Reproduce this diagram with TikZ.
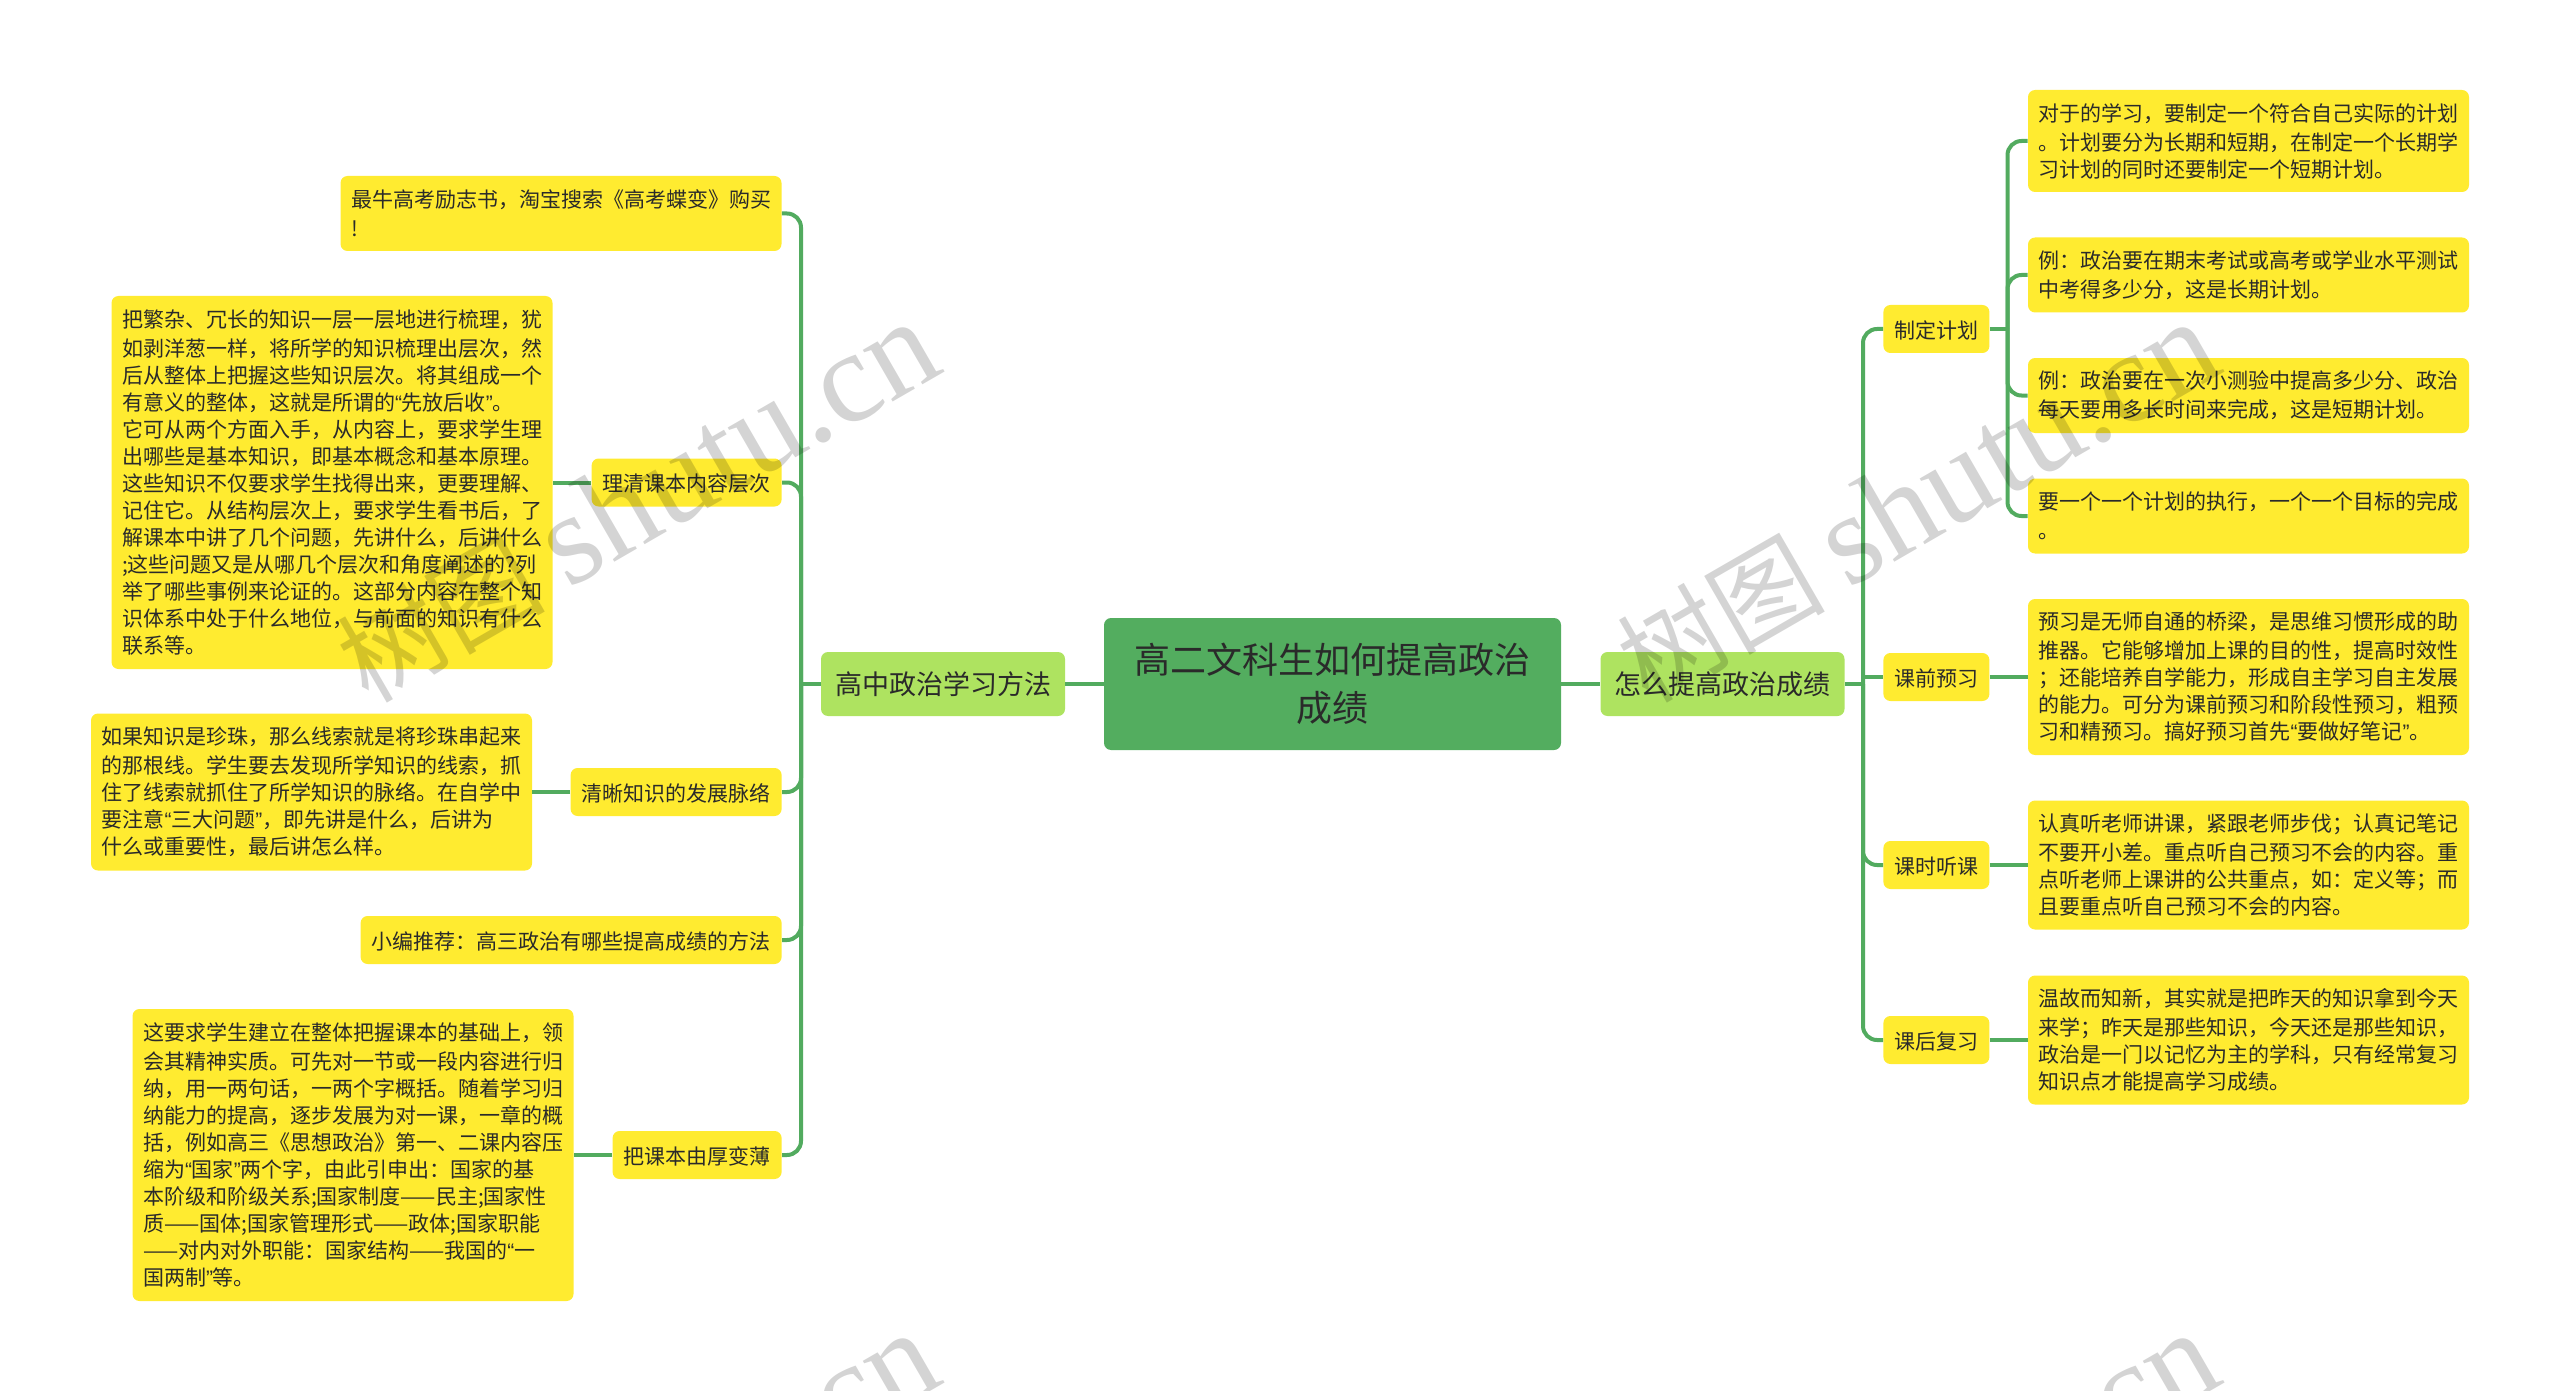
\documentclass[tikz,border=0pt]{standalone}
\usepackage{fontspec}
\setmainfont{Noto Sans CJK SC}
\newfontfamily\latf{Liberation Sans}
\newfontfamily\wmlat{Liberation Serif}
\newcommand\qql{{\latf “}}
\newcommand\qqr{{\latf ”}}
\definecolor{rootgreen}{HTML}{53AD5F}
\definecolor{subgreen}{HTML}{AEE360}
\definecolor{linkgreen}{HTML}{52AB5F}
\definecolor{leafyellow}{HTML}{FFEB30}
\definecolor{inktext}{HTML}{2A2A2A}
\tikzset{
  x=.5pt,y=-.5pt,
  link/.style={draw=linkgreen,line width=2pt,rounded corners=7pt},
  base/.style={rounded corners=3.5pt,text=inktext,inner ysep=0pt},
  rootbox/.style={base,fill=rootgreen,minimum width=228.5pt,minimum height=66pt,text width=210pt,align=center,font=\fontsize{18}{24}\selectfont},
  subbox/.style={base,fill=subgreen,minimum width=122pt,minimum height=32pt,inner xsep=0pt,font=\fontsize{13.5}{18}\selectfont},
  tagbox/.style={base,fill=leafyellow,minimum height=24pt,inner xsep=5.5pt,text height=10pt,text depth=1pt,font=\fontsize{10.5}{13.5}\selectfont},
  detail/.style={base,fill=leafyellow,text width=210pt,inner xsep=5.25pt,align=left,font=\fontsize{10.5}{13.5}\selectfont,execute at begin node={\vspace*{1pt}}},
  mark text/.style={black,opacity=.17,rotate=30,anchor=base west,inner sep=0pt,font=\fontsize{52}{60}\selectfont}
}
\newcommand\wmk{树图 {\wmlat\fontsize{65}{70}\selectfont shutu.cn}}
\begin{document}
\begin{tikzpicture}
\useasboundingbox (0,0) rectangle (2560,1391);
\clip (0,0) rectangle (2560,1391);
% root and main branches
\node[rootbox] (root) at (1332.5,684) {高二文科生如何提高政治\\成绩};
\node[subbox] (subL) at (943,684) {高中政治学习方法};
\node[subbox] (subR) at (1722.5,684) {怎么提高政治成绩};
\coordinate (hubL) at (801,684);
\coordinate (hubR) at (1863,684);
\coordinate (hubPlan) at (2007.5,329);
% left tags
\node[detail,minimum height=37.5pt] (a1) at (561,213.5) {最牛高考励志书，淘宝搜索《高考蝶变》购买\\!};
\node[tagbox,anchor=east] (t2) at (782,482.5) {理清课本内容层次};
\node[detail,minimum height=186.5pt] (d2) at (332,482.5) {把繁杂、冗长的知识一层一层地进行梳理，犹\\如剥洋葱一样，将所学的知识梳理出层次，然\\后从整体上把握这些知识层次。将其组成一个\\有意义的整体，这就是所谓的\qql 先放后收\qqr 。\\它可从两个方面入手，从内容上，要求学生理\\出哪些是基本知识，即基本概念和基本原理。\\这些知识不仅要求学生找得出来，更要理解、\\记住它。从结构层次上，要求学生看书后，了\\解课本中讲了几个问题，先讲什么，后讲什么\\;这些问题又是从哪几个层次和角度阐述的?列\\举了哪些事例来论证的。这部分内容在整个知\\识体系中处于什么地位，与前面的知识有什么\\联系等。};
\node[tagbox,anchor=east] (t3) at (782,792) {清晰知识的发展脉络};
\node[detail,minimum height=78.5pt] (d3) at (311.5,792) {如果知识是珍珠，那么线索就是将珍珠串起来\\的那根线。学生要去发现所学知识的线索，抓\\住了线索就抓住了所学知识的脉络。在自学中\\要注意\qql 三大问题\qqr ，即先讲是什么，后讲为\\什么或重要性，最后讲怎么样。};
\node[tagbox,anchor=east] (t4) at (782,940) {小编推荐：高三政治有哪些提高成绩的方法};
\node[tagbox,anchor=east] (t5) at (782,1155) {把课本由厚变薄};
\node[detail,minimum height=146pt] (d5) at (353,1155) {这要求学生建立在整体把握课本的基础上，领\\会其精神实质。可先对一节或一段内容进行归\\纳，用一两句话，一两个字概括。随着学习归\\纳能力的提高，逐步发展为对一课，一章的概\\括，例如高三《思想政治》第一、二课内容压\\缩为\qql 国家\qqr 两个字，由此引申出：国家的基\\本阶级和阶级关系;国家制度——民主;国家性\\质——国体;国家管理形式——政体;国家职能\\——对内对外职能：国家结构——我国的\qql 一\\国两制\qqr 等。};
% right tags
\node[tagbox,anchor=west] (p1) at (1883,329) {制定计划};
\node[tagbox,anchor=west] (p2) at (1883,677) {课前预习};
\node[tagbox,anchor=west] (p3) at (1883,865) {课时听课};
\node[tagbox,anchor=west] (p4) at (1883,1040) {课后复习};
\node[detail,minimum height=51pt] (r1) at (2248.5,141) {对于的学习，要制定一个符合自己实际的计划\\。计划要分为长期和短期，在制定一个长期学\\习计划的同时还要制定一个短期计划。};
\node[detail,minimum height=37.5pt] (r2) at (2248.5,275) {例：政治要在期末考试或高考或学业水平测试\\中考得多少分，这是长期计划。};
\node[detail,minimum height=37.5pt] (r3) at (2248.5,395.5) {例：政治要在一次小测验中提高多少分、政治\\每天要用多长时间来完成，这是短期计划。};
\node[detail,minimum height=37.5pt] (r4) at (2248.5,516) {要一个一个计划的执行，一个一个目标的完成\\。};
\node[detail,minimum height=78pt] (r5) at (2248.5,677) {预习是无师自通的桥梁，是思维习惯形成的助\\推器。它能够增加上课的目的性，提高时效性\\；还能培养自学能力，形成自主学习自主发展\\的能力。可分为课前预习和阶段性预习，粗预\\习和精预习。搞好预习首先\qql 要做好笔记\qqr 。};
\node[detail,minimum height=64.5pt] (r6) at (2248.5,865) {认真听老师讲课，紧跟老师步伐；认真记笔记\\不要开小差。重点听自己预习不会的内容。重\\点听老师上课讲的公共重点，如：定义等；而\\且要重点听自己预习不会的内容。};
\node[detail,minimum height=64.5pt] (r7) at (2248.5,1040) {温故而知新，其实就是把昨天的知识拿到今天\\来学；昨天是那些知识，今天还是那些知识，\\政治是一门以记忆为主的学科，只有经常复习\\知识点才能提高学习成绩。};
% connectors
\draw[link] (root.west) -- (subL.east);
\draw[link] (root.east) -- (subR.west);
\draw[link] (subL.west) -- (hubL);
\draw[link] (subR.east) -- (hubR);
\draw[link] (a1.east) -| (hubL);
\draw[link] (t2.east) -| (hubL);
\draw[link] (t3.east) -| (hubL);
\draw[link] (t4.east) -| (hubL);
\draw[link] (t5.east) -| (hubL);
\draw[link] (t2.west) -- (d2.east);
\draw[link] (t3.west) -- (d3.east);
\draw[link] (t5.west) -- (d5.east);
\draw[link] (p1.west) -| (hubR);
\draw[link,sharp corners] (p2.west) -| (hubR);
\draw[link] (p3.west) -| (hubR);
\draw[link] (p4.west) -| (hubR);
\draw[link] (p1.east) -- (hubPlan);
\draw[link] (r1.west) -| (hubPlan);
\draw[link] (r2.west) -| (hubPlan);
\draw[link] (r3.west) -| (hubPlan);
\draw[link] (r4.west) -| (hubPlan);
\draw[link] (p2.east) -- (r5.west);
\draw[link] (p3.east) -- (r6.west);
\draw[link] (p4.east) -- (r7.west);
% watermarks
\node[mark text] (w1) at (368,705) {\wmk};
\node[mark text] (w2) at (1648,705) {\wmk};
\node[mark text] (w3) at (368,1716) {\wmk};
\node[mark text] (w4) at (1648,1716) {\wmk};
\end{tikzpicture}
\end{document}
